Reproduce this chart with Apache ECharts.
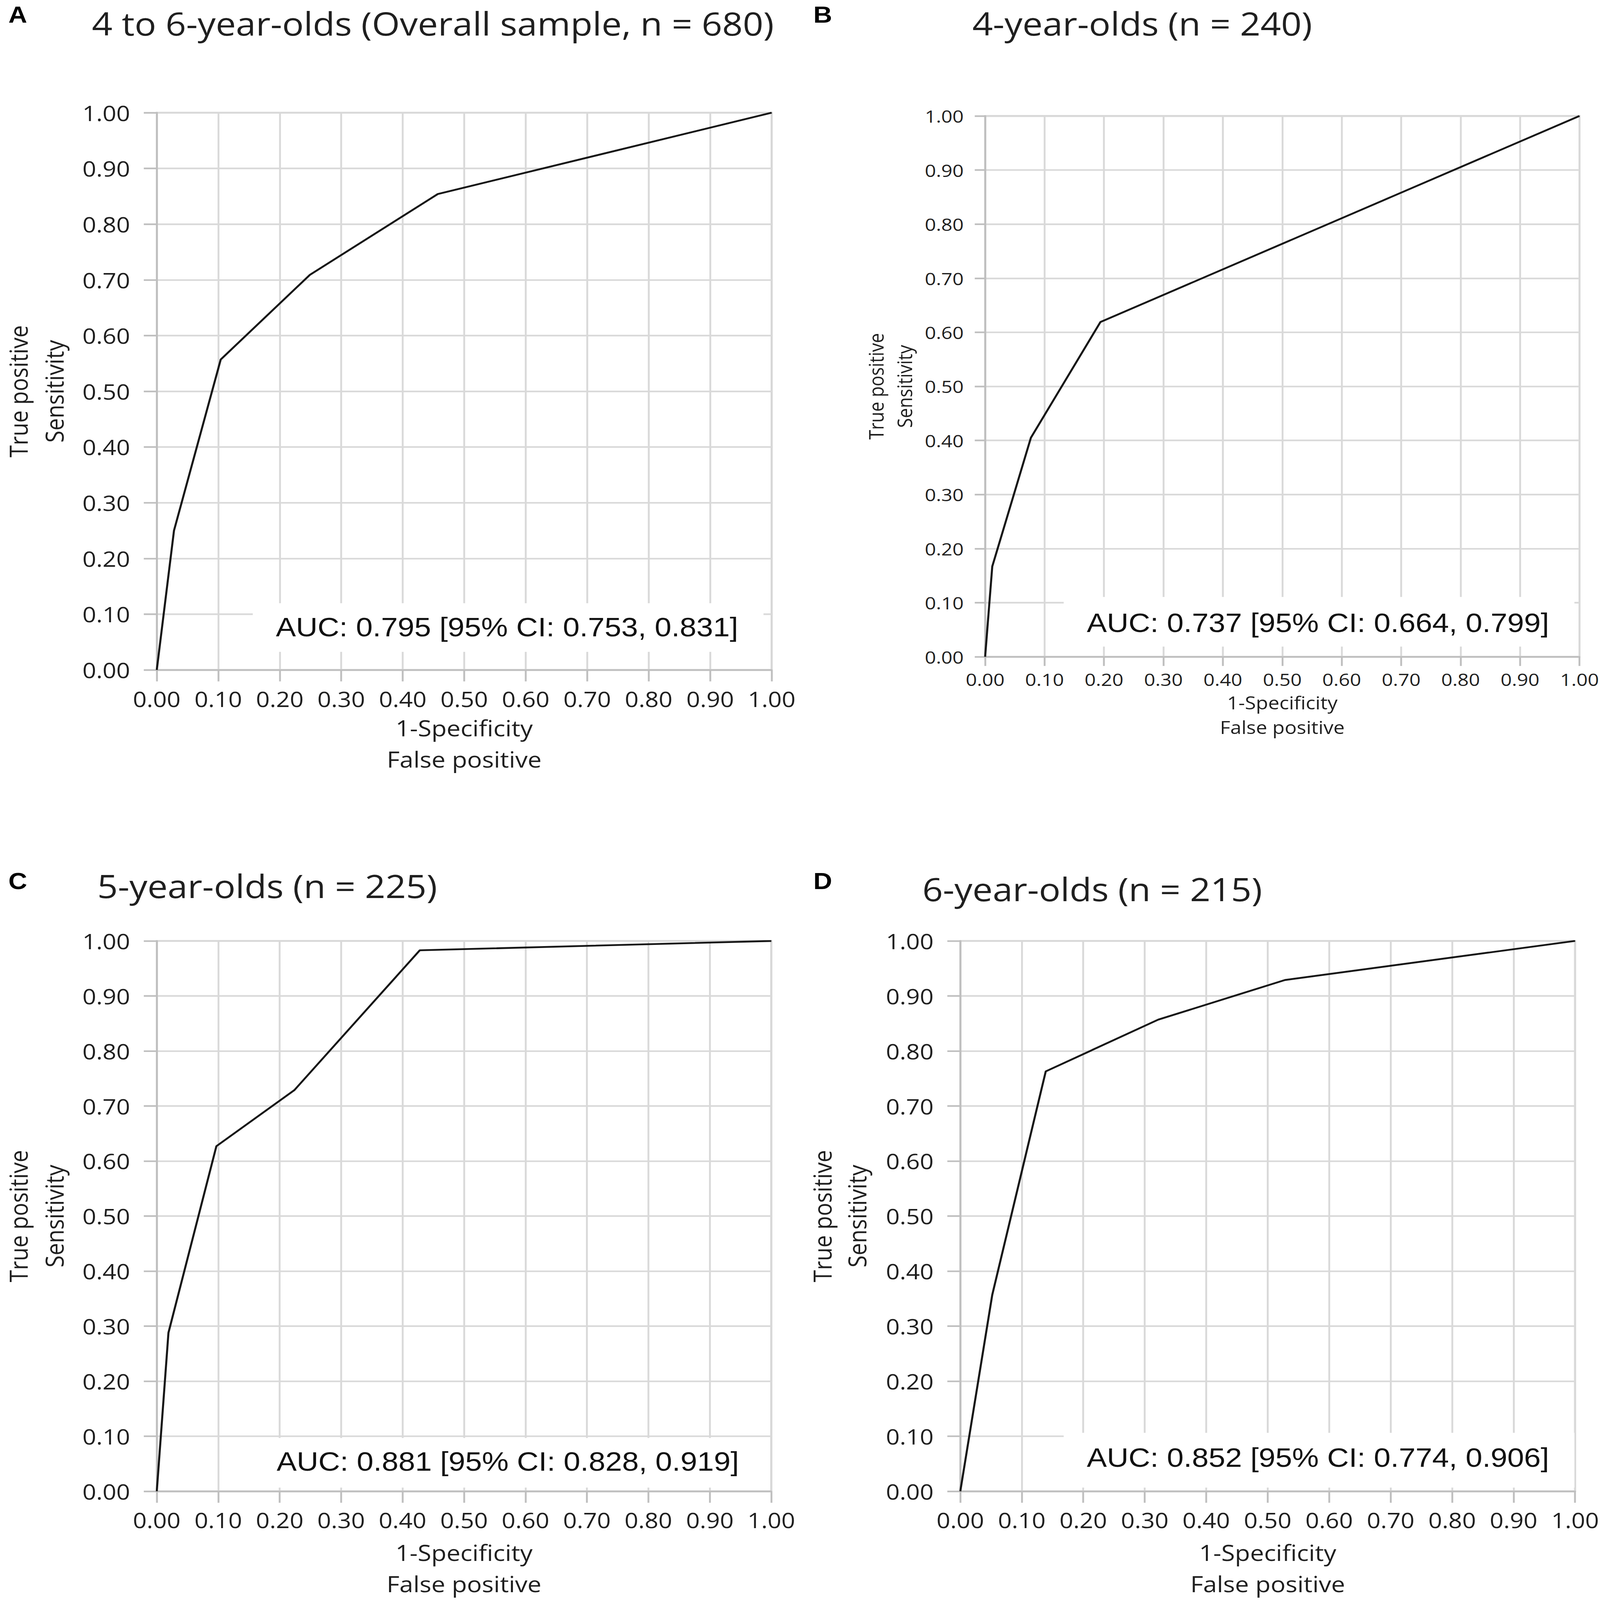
<!DOCTYPE html>
<html>
<head>
<meta charset="utf-8">
<title>ROC curves by age group</title>
<script src="https://cdn.jsdelivr.net/npm/echarts@6/dist/echarts.min.js"></script>
<style>
  html, body { margin: 0; padding: 0; background: #ffffff; overflow: hidden; }
  #chart { width: 4317px; height: 4870px; transform-origin: 0 0; }
</style>
</head>
<body>
<div id="chart"></div>
<script>
// ROC points: x = 1-specificity, y = sensitivity
var fprA = [0, 0.028, 0.104, 0.249, 0.457, 1];
var tprA = [0, 0.250, 0.557, 0.709, 0.854, 1];

var fprB = [0, 0.012, 0.077, 0.194, 1];
var tprB = [0, 0.167, 0.405, 0.619, 1];

var fprC = [0, 0.019, 0.097, 0.224, 0.428, 1];
var tprC = [0, 0.288, 0.627, 0.729, 0.983, 1];

var fprD = [0, 0.052, 0.139, 0.322, 0.528, 1];
var tprD = [0, 0.357, 0.763, 0.857, 0.929, 1];

var letters = ['A', 'B', 'C', 'D'];
var titles = [
    '4 to 6-year-olds (Overall sample, n = 680)',
    '4-year-olds (n = 240)',
    '5-year-olds (n = 225)',
    '6-year-olds (n = 215)'
];
var aucLabels = [
    'AUC: 0.795 [95% CI: 0.753, 0.831]',
    'AUC: 0.737 [95% CI: 0.664, 0.799]',
    'AUC: 0.881 [95% CI: 0.828, 0.919]',
    'AUC: 0.852 [95% CI: 0.774, 0.906]'
];
var xName = '1-Specificity\nFalse positive';
var yName = 'True positive\nSensitivity';

var curves = [[fprA, tprA], [fprB, tprB], [fprC, tprC], [fprD, tprD]];

// page layout of each panel, in pixels of the 4317 x 4870 page
var layout = [
    { grid: [403, 343, 1679, 1696], letter: [48, 44], title: [1168, 70],
      box: [682, 1836, 1378, 148], auc: [1368, 1908],
      tick: 65, tickLen: 35, yMargin: 72, xMargin: 55,
      name: 67, xGap: 128, xLine: 96, yGap: 228, yLine: 97 },
    { grid: [2658, 353, 1635, 1646], letter: [2220, 44], title: [3082, 70],
      box: [2870, 1817, 1378, 151], auc: [3556, 1895],
      tick: 53, tickLen: 28, yMargin: 58, xMargin: 42,
      name: 54, xGap: 101, xLine: 75, yGap: 180, yLine: 77 },
    { grid: [403, 2864, 1678, 1698], letter: [48, 2682], title: [721, 2695],
      box: [682, 4377, 1378, 151], auc: [1370, 4448],
      tick: 65, tickLen: 35, yMargin: 72, xMargin: 55,
      name: 67, xGap: 138, xLine: 96, yGap: 228, yLine: 97 },
    { grid: [2591, 2864, 1682, 1698], letter: [2220, 2682], title: [2947, 2705],
      box: [2870, 4361, 1378, 167], auc: [3556, 4436],
      tick: 65, tickLen: 35, yMargin: 72, xMargin: 55,
      name: 67, xGap: 138, xLine: 96, yGap: 232, yLine: 94 }
];

var uiFont = '"Open Sans", "Noto Sans", sans-serif';
var textColor = '#1f1f1f';

// the page is drawn at 4317 x 4870 and fitted to the real window
var dom = document.getElementById('chart');
var kx = (window.innerWidth || 4317) / 4317;
var ky = (window.innerHeight || 4870) / 4870;
dom.style.transform = 'scale(' + kx + ',' + ky + ')';

var chart = echarts.init(dom, null, { renderer: 'svg', width: 4317, height: 4870 });

function fmt(v) {
    return v.toFixed(2);
}

function makeAxis(i, isX) {
    var L = layout[i];
    return {
        type: 'value',
        gridIndex: i,
        min: 0,
        max: 1,
        interval: 0.1,
        name: isX ? xName : yName,
        nameLocation: 'middle',
        nameGap: isX ? L.xGap : L.yGap,
        nameTextStyle: {
            fontFamily: uiFont,
            fontSize: L.name,
            lineHeight: isX ? L.xLine : L.yLine,
            color: textColor
        },
        axisLine: { show: true, lineStyle: { color: '#bfbfbf', width: 5 } },
        axisTick: { show: true, inside: false, length: L.tickLen,
            lineStyle: { color: '#bfbfbf', width: 5 } },
        axisLabel: {
            formatter: fmt,
            fontFamily: uiFont,
            fontSize: L.tick,
            color: textColor,
            margin: isX ? L.xMargin : L.yMargin
        },
        splitLine: { show: true, lineStyle: { color: '#d9d9d9', width: 5 } }
    };
}

function centeredText(x, y, text, font, fill, z) {
    return {
        type: 'text', x: x, y: y, z: z,
        style: { text: text, font: font, fill: fill,
            align: 'center', verticalAlign: 'middle',
            textAlign: 'center', textVerticalAlign: 'middle' }
    };
}

var grids = [], xAxes = [], yAxes = [], series = [], graphics = [];

for (var i = 0; i < 4; i++) {
    var L = layout[i];
    grids.push({
        left: L.grid[0], top: L.grid[1], width: L.grid[2], height: L.grid[3],
        show: true, borderColor: '#bfbfbf', borderWidth: 5
    });
    xAxes.push(makeAxis(i, true));
    yAxes.push(makeAxis(i, false));

    var pts = curves[i][0].map(function (x, k) {
        return [x, curves[i][1][k]];
    });
    series.push({
        type: 'line',
        xAxisIndex: i,
        yAxisIndex: i,
        data: pts,
        showSymbol: false,
        lineStyle: { color: '#161616', width: 5.5 },
        z: 5
    });

    graphics.push(centeredText(L.letter[0], L.letter[1], letters[i],
        'bold 70px "Liberation Sans", Arial, sans-serif', '#000', 20));
    graphics.push(centeredText(L.title[0], L.title[1], titles[i],
        '97px ' + uiFont, textColor, 20));
    graphics.push({
        type: 'rect', z: 10,
        shape: { x: L.box[0], y: L.box[1], width: L.box[2], height: L.box[3] },
        style: { fill: '#ffffff' }
    });
    graphics.push(centeredText(L.auc[0], L.auc[1], aucLabels[i],
        '81px "Liberation Sans", Arial, sans-serif', '#111', 11));
}

chart.setOption({
    animation: false,
    backgroundColor: '#ffffff',
    grid: grids,
    xAxis: xAxes,
    yAxis: yAxes,
    series: series,
    graphic: graphics
});
</script>
</body>
</html>
